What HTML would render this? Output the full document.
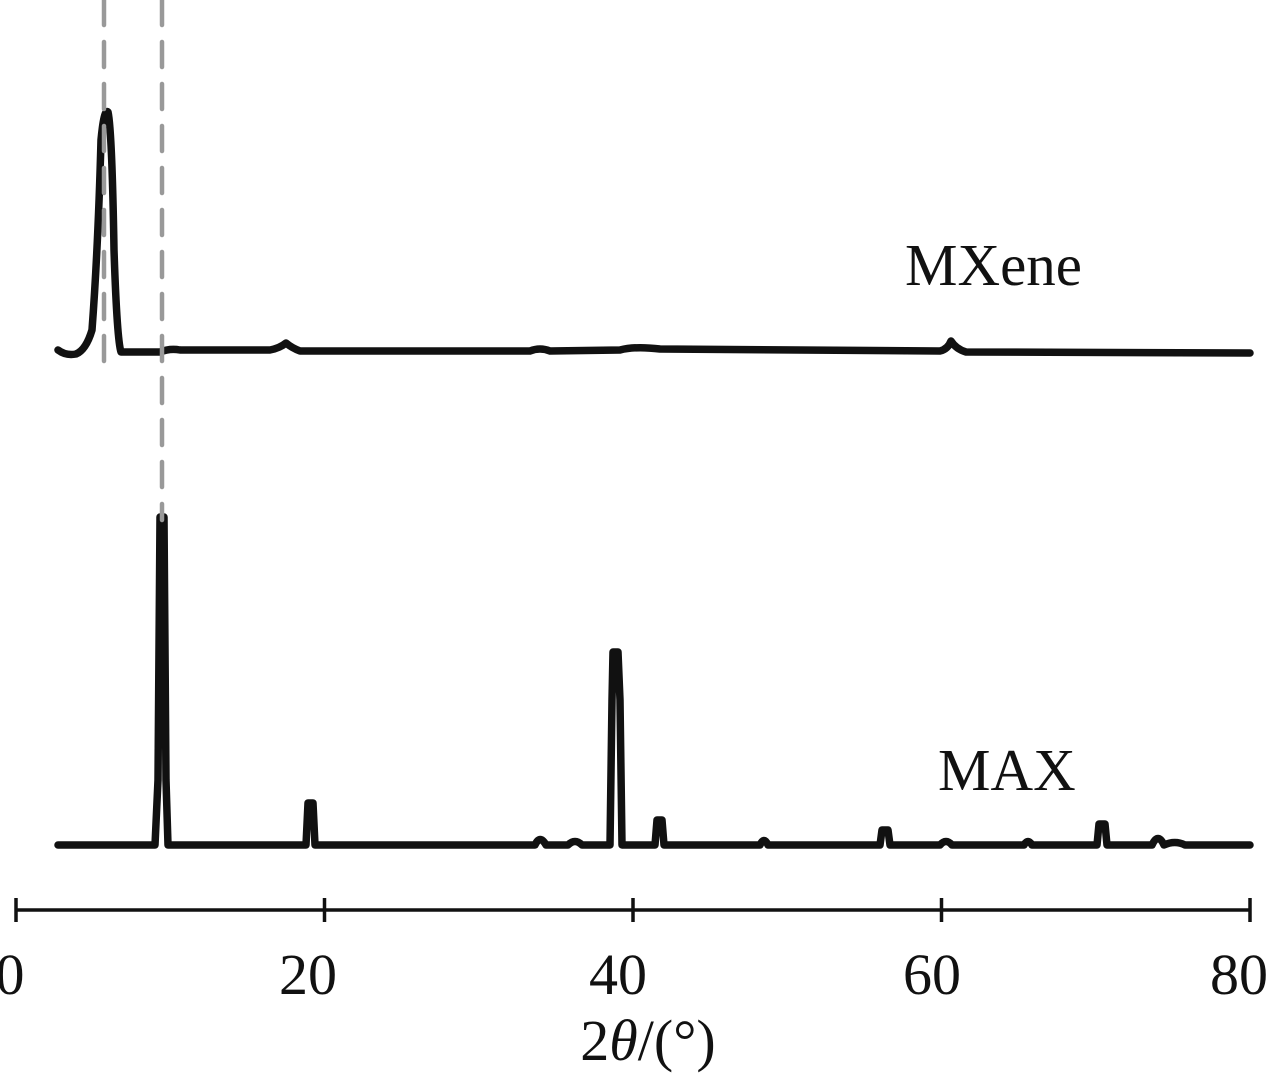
<!DOCTYPE html>
<html><head><style>
html,body{margin:0;padding:0;background:#fff;width:1267px;height:1074px;overflow:hidden}
text{font-family:"Liberation Serif",serif;fill:#111}
</style></head><body>
<svg width="1267" height="1074" viewBox="0 0 1267 1074" xmlns="http://www.w3.org/2000/svg">
<g fill="none" stroke="#111" stroke-width="7.5" stroke-linejoin="round" stroke-linecap="round">
<path d="M58 350 Q66 356 76 354 Q86 350 92 330 Q98 250 101 140 Q104 108 108 112 Q112 130 114 250 Q117 340 121 352 L160 352 Q170 348 180 350 L270 350 Q280 348 286 343 Q292 348 300 351 L530 351 Q540 347 550 351 L620 350 Q635 346 660 349 L940 351 Q948 349 951 341 Q956 349 966 352 L1250 353"/>
<path d="M58 845 L155 845 L158 780 L160 517 L164 517 L166 780 L168 845 L306 845 L308 803 L313 803 L315 845 L535 845 Q540 834 546 845 L568 845 Q575 838 582 845 L610 845 L612 700 L613 652 L618 652 L620 700 L622 845 L655 845 L657 820 L662 820 L664 845 L760 845 Q764 836 768 845 L880 845 L882 830 L888 830 L890 845 L940 845 Q946 838 952 845 L1024 845 Q1028 838 1032 845 L1097 845 L1099 824 L1105 824 L1107 845 L1152 845 Q1158 832 1164 845 Q1175 840 1185 845 L1250 845"/>
</g>
<g stroke="#999" stroke-width="4.5" stroke-dasharray="25 17" stroke-linecap="round">
<line x1="104" y1="0" x2="104" y2="372"/>
<line x1="162" y1="0" x2="162" y2="520"/>
</g>
<g stroke="#111" stroke-width="3.5" fill="none">
<line x1="16" y1="910" x2="1251" y2="910"/>
<line x1="16" y1="898" x2="16" y2="922"/>
<line x1="324.5" y1="898" x2="324.5" y2="922"/>
<line x1="633" y1="898" x2="633" y2="922"/>
<line x1="941.5" y1="898" x2="941.5" y2="922"/>
<line x1="1250" y1="898" x2="1250" y2="922"/>
</g>
<g font-size="58" text-anchor="middle">
<text x="10" y="994">0</text>
<text x="308" y="994">20</text>
<text x="618" y="994">40</text>
<text x="932" y="994">60</text>
<text x="1239" y="994">80</text>
<text x="648" y="1060">2<tspan font-style="italic">θ</tspan>/(°)</text>
</g>
<text x="905" y="285" font-size="59">MXene</text>
<text x="938" y="790" font-size="59">MAX</text>
</svg>
</body></html>
